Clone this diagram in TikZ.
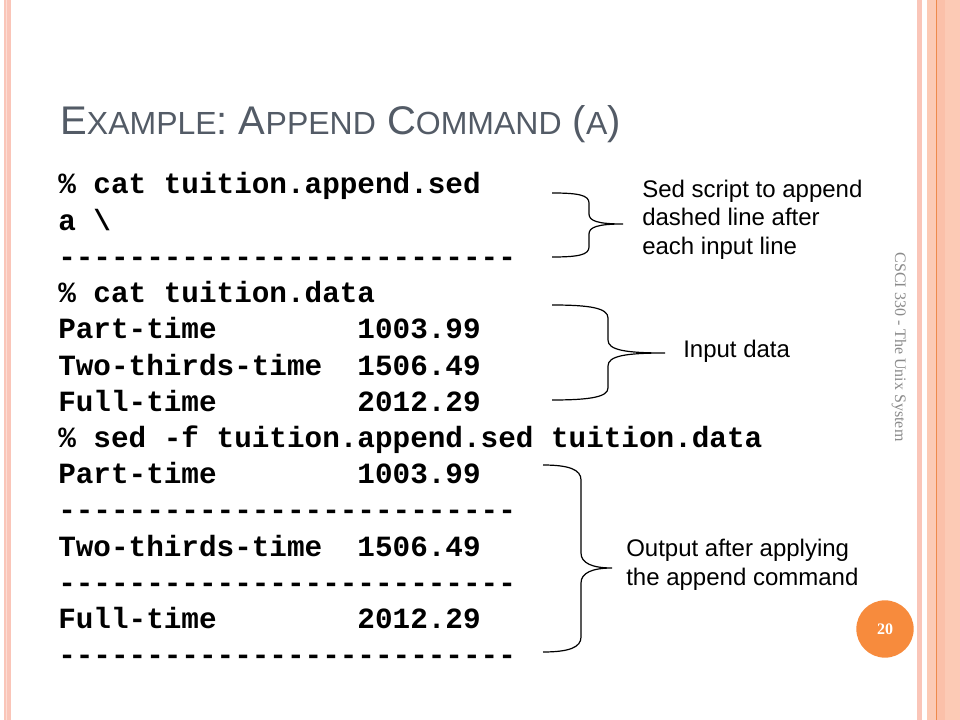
\documentclass[tikz,border=0pt]{standalone}
\usepackage{fontspec}
\setmainfont{Liberation Sans}
\setmonofont{Liberation Mono}
\newfontfamily\serifrm{Liberation Serif}
\definecolor{titlegray}{HTML}{535B66}
\definecolor{salmon}{HTML}{FCCAB5}
\definecolor{salmondk}{HTML}{FBC0A9}
\definecolor{pinkline}{HTML}{FAC5B8}
\definecolor{orangeline}{HTML}{EE8A4C}
\definecolor{pgorange}{HTML}{F78B3D}
\definecolor{footgray}{HTML}{8A8A8A}
\newcommand\tsc[1]{{\fontsize{24}{24}\selectfont #1}}
\tikzset{
  code/.style={anchor=base west, inner sep=0pt, font=\ttfamily\bfseries\fontsize{22}{22}\selectfont},
  note/.style={anchor=base west, inner sep=0pt, align=left, font=\fontsize{18}{21.5}\selectfont},
  bracepath/.style={draw=black, line width=0.9pt},
}
\begin{document}
\begin{tikzpicture}[x=0.75pt,y=-0.75pt]
\useasboundingbox (0,0) rectangle (960,720);
\fill[white] (0,0) rectangle (960,720);
% borders
\fill[pinkline] (4,0) rectangle (10.5,720);
\fill[pinkline!60!white] (5.5,0) rectangle (7,720);
\fill[pinkline] (917.3,0) rectangle (922,720);
\fill[salmon] (927.3,0) rectangle (960,720);
\fill[salmondk] (937,0) rectangle (945,720);
\fill[orangeline] (935.7,0) rectangle (937,720);
% title
\node[anchor=base west, inner sep=0pt, text=titlegray, font=\fontsize{30}{30}\selectfont] (title) at (60,135)
  {E\tsc{XAMPLE}: A\tsc{PPEND} C\tsc{OMMAND} (\tsc{A})};
% code lines
\def\cx{58}
\def\ncx{357.2}
\node[code] (l1) at (\cx,194) {\% cat tuition.append.sed};
\node[code] (l2) at (\cx,230.2) {a \textbackslash};
\node[code] (l3) at (\cx,266.4) {\foreach \i in {1,...,26}{-\kern0pt}};
\node[code] (l4) at (\cx,302.6) {\% cat tuition.data};
\node[code] (l5) at (\cx,338.8) {Part-time};
\node[code] (n5) at (\ncx,338.8) {1003.99};
\node[code] (l6) at (\cx,375) {Two-thirds-time};
\node[code] (n6) at (\ncx,375) {1506.49};
\node[code] (l7) at (\cx,411.2) {Full-time};
\node[code] (n7) at (\ncx,411.2) {2012.29};
\node[code] (l8) at (\cx,447.4) {\% sed -f tuition.append.sed tuition.data};
\node[code] (l9) at (\cx,483.6) {Part-time};
\node[code] (n9) at (\ncx,483.6) {1003.99};
\node[code] (l10) at (\cx,519.8) {\foreach \i in {1,...,26}{-\kern0pt}};
\node[code] (l11) at (\cx,556) {Two-thirds-time};
\node[code] (n11) at (\ncx,556) {1506.49};
\node[code] (l12) at (\cx,592.2) {\foreach \i in {1,...,26}{-\kern0pt}};
\node[code] (l13) at (\cx,628.4) {Full-time};
\node[code] (n13) at (\ncx,628.4) {2012.29};
\node[code] (l14) at (\cx,664.6) {\foreach \i in {1,...,26}{-\kern0pt}};
% braces
\draw[bracepath] (552,193) .. controls (578,193) and (589,195) .. (589,203) -- (589,214)
  .. controls (589,221) and (598,224) .. (623,224)
  .. controls (598,224) and (589,227) .. (589,234) -- (589,247)
  .. controls (589,255) and (578,257) .. (552,257);
\draw[bracepath] (552,305) .. controls (590,305) and (608,308) .. (608,318) -- (608,340)
  .. controls (608,350) and (625,353) .. (665,353)
  .. controls (625,353) and (608,356) .. (608,366) -- (608,388)
  .. controls (608,397) and (590,400) .. (552,400);
\draw[bracepath] (543,465) .. controls (570,465) and (581,470) .. (581,480) -- (581,553)
  .. controls (581,563) and (592,568) .. (612,568)
  .. controls (592,568) and (581,573) .. (581,583) -- (581,637)
  .. controls (581,647) and (570,652) .. (543,652);
% notes (base anchor = last line baseline)
\node[note] (a1) at (642,254.5) {Sed script to append\\dashed line after\\each input line};
\node[note] (a2) at (683,357) {Input data};
\node[note] (a3) at (626,585) {Output after applying\\the append command};
% footer
\node[rotate=-90, inner sep=0pt, text=footgray, font=\serifrm\fontsize{12}{12}\selectfont] (foot) at (899,347) {CSCI 330 - The Unix System};
\node[circle, fill=pgorange, minimum size=43pt, inner sep=0pt, text=white, font=\serifrm\bfseries\fontsize{12}{12}\selectfont] (pg) at (885,629) {20};
\end{tikzpicture}
\end{document}
